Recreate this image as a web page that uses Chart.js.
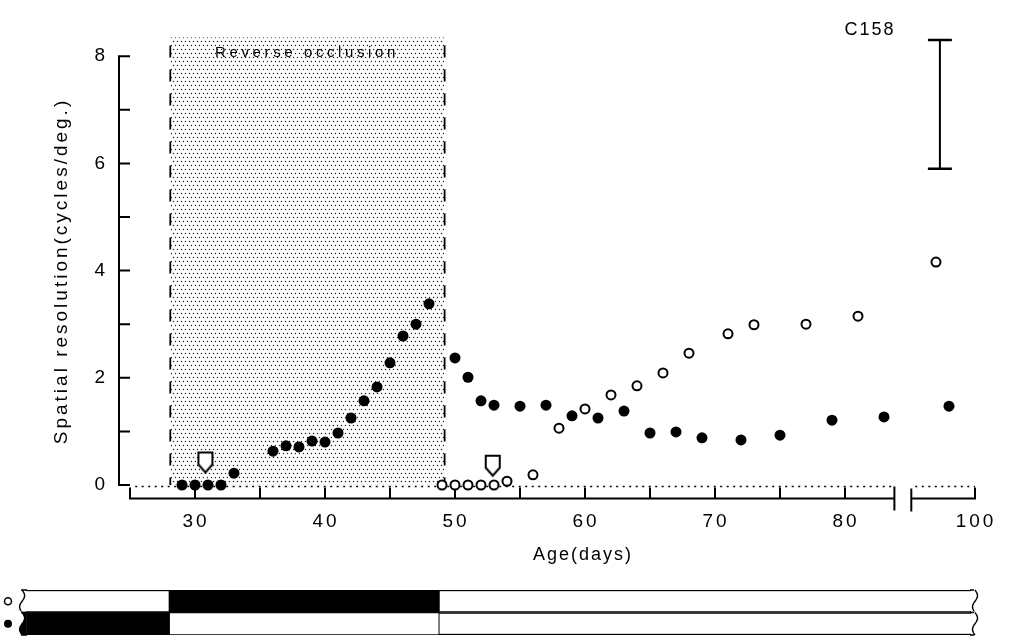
<!DOCTYPE html>
<html>
<head>
<meta charset="utf-8">
<script src="https://cdn.jsdelivr.net/npm/chart.js@4"></script>
<style>
  body { margin: 0; background: #fff; }
  #wrap { position: relative; width: 1010px; height: 637px; }
  #main { position: absolute; left: 0; top: 0; }
  #bar { position: absolute; left: 0; top: 584px; }
</style>
</head>
<body>
<div id="wrap">
  <canvas id="main" width="1010" height="637"></canvas>
  <canvas id="bar" width="1010" height="53"></canvas>
</div>
<script>
// Filled circles (eye shown as ● in the bottom strip)
const filledDays = [29, 30, 31, 32, 33, 36, 37, 38, 39, 40, 41, 42, 43, 44, 45, 46, 47, 48,
  50, 51, 52, 53, 55, 57, 59, 61, 63, 65, 67, 69, 72, 75, 79, 83, 98];
const filledValues = [0, 0, 0, 0, 0.22, 0.63, 0.73, 0.71, 0.82, 0.8, 0.97, 1.25, 1.57, 1.83, 2.28, 2.78, 3.0, 3.38,
  2.37, 2.01, 1.57, 1.49, 1.47, 1.49, 1.29, 1.25, 1.38, 0.97, 0.99, 0.88, 0.84, 0.93, 1.21, 1.27, 1.47];

// Open circles (eye shown as ○)
const openDays = [49, 50, 51, 52, 53, 54, 56, 58, 60, 62, 64, 66, 68, 71, 73, 77, 81, 97];
const openValues = [0, 0, 0, 0, 0, 0.07, 0.19, 1.06, 1.42, 1.68, 1.85, 2.09, 2.46, 2.82, 2.99, 3.0, 3.15, 4.16];

// the two open arrows
const arrowDays = [30.8, 52.9];
const arrowValues = [0.42, 0.36];

// scale bar top right
const errorBarDay = 97.3;
const errorBarValues = [8.3, 5.9];

// reverse occlusion period (shaded)
const occlusion = [28.1, 49.2];
const occlusionTop = 8.35;

const yTickValues = [0, 2, 4, 6, 8];
const xTickValues = [30, 40, 50, 60, 70, 80, 100];
const xMinorTicks = [25, 35, 45, 55, 65, 75];

// axis break: days 84..95 are left out
const breakStart = 83.8;
const breakEnd = 95.1;
const breakShift = 10;
const xAxisEnd = 100;

// occlusion strip below the axis
const barRows = ['open', 'filled'];
const barStart = 16.7;
const barEnd = 100;
const openClosed = [28, 48.8];
const filledClosed = [16.7, 28];

const FONT = '"Liberation Sans", Arial, sans-serif';

// day on the paper -> position on the (broken) linear axis
const toPlot = d => d >= breakEnd ? d - breakShift : d;

function points(days, values) {
  return days.map((d, i) => ({ x: toPlot(d), y: values[i] }));
}

function arrowImage() {
  const c = document.createElement('canvas');
  c.width = 20; c.height = 24;
  const g = c.getContext('2d');
  g.beginPath();
  g.moveTo(3, 2); g.lineTo(17, 2); g.lineTo(17, 14); g.lineTo(10, 22); g.lineTo(3, 14);
  g.closePath();
  g.fillStyle = '#fff'; g.fill();
  g.lineWidth = 2; g.strokeStyle = '#000'; g.stroke();
  return c;
}

// small dot screen used for the shaded period
function stipple() {
  const c = document.createElement('canvas');
  c.width = 4; c.height = 8;
  const g = c.getContext('2d');
  g.fillStyle = '#222';
  [[1.5, 1.5], [3.5, 5.5]].forEach(([a, b]) => {
    g.beginPath(); g.arc(a, b, 0.75, 0, Math.PI * 2); g.fill();
  });
  return c;
}

const figurePlugin = {
  id: 'figure',
  beforeDatasetsDraw(chart) {
    const { ctx, chartArea, scales: { x, y } } = chart;
    const px = d => x.getPixelForValue(toPlot(d));
    const py = v => y.getPixelForValue(v);
    ctx.save();

    // shaded occlusion period
    const x0 = px(occlusion[0]), x1 = px(occlusion[1]);
    ctx.fillStyle = ctx.createPattern(stipple(), 'repeat');
    ctx.fillRect(x0, py(occlusionTop), x1 - x0, py(0) - py(occlusionTop));
    ctx.strokeStyle = '#000';
    ctx.lineWidth = 1.8;
    ctx.setLineDash([12, 12]);
    [x0, x1].forEach(xx => {
      ctx.beginPath(); ctx.moveTo(xx, py(8.2)); ctx.lineTo(xx, py(0)); ctx.stroke();
    });

    // dotted zero level
    ctx.setLineDash([2, 4.5]);
    ctx.lineWidth = 1.4;
    const zy = py(0) + 1.5;
    ctx.beginPath();
    ctx.moveTo(px(25.4), zy); ctx.lineTo(px(breakStart), zy);
    ctx.moveTo(px(breakEnd) + 4, zy); ctx.lineTo(px(xAxisEnd), zy);
    ctx.stroke();
    ctx.setLineDash([]);

    // y axis with a tick at every unit
    const ax = chartArea.left;
    ctx.lineWidth = 2;
    ctx.beginPath();
    ctx.moveTo(ax, py(8)); ctx.lineTo(ax, py(0));
    for (let v = 0; v <= 8; v++) {
      ctx.moveTo(ax - 1, py(v)); ctx.lineTo(ax + 11, py(v));
    }
    ctx.stroke();

    // x axis, broken near the end
    const by = chartArea.bottom;
    ctx.beginPath();
    ctx.moveTo(px(25), by); ctx.lineTo(px(breakStart), by);
    ctx.moveTo(px(breakEnd), by); ctx.lineTo(px(xAxisEnd), by);
    xMinorTicks.concat(xTickValues).forEach(d => {
      ctx.moveTo(px(d), by + 1); ctx.lineTo(px(d), by - 11);
    });
    ctx.moveTo(px(breakStart), by - 12); ctx.lineTo(px(breakStart), by + 12);
    ctx.moveTo(px(breakEnd), by - 10); ctx.lineTo(px(breakEnd), by + 13);
    ctx.stroke();
    ctx.restore();
  },
  afterDraw(chart) {
    const { ctx, scales: { x, y } } = chart;
    const px = d => x.getPixelForValue(toPlot(d));
    const py = v => y.getPixelForValue(v);
    ctx.save();
    ctx.fillStyle = '#000';
    ctx.textBaseline = 'middle';

    ctx.font = '19px ' + FONT;
    ctx.textAlign = 'right';
    yTickValues.forEach(v => ctx.fillText(String(v), 105, py(v)));

    ctx.font = '19px ' + FONT;
    ctx.textAlign = 'center';
    ctx.letterSpacing = '3px';
    xTickValues.forEach(d => ctx.fillText(String(d), px(d) + 1, 522));

    ctx.font = '18px ' + FONT;
    ctx.letterSpacing = '2px';
    ctx.fillText('Age(days)', 583, 555);
    ctx.fillText('C158', 870, 30);

    ctx.font = '15px ' + FONT;
    ctx.letterSpacing = '3.6px';
    ctx.fillText('Reverse occlusion', 307, 53);

    ctx.save();
    ctx.translate(62, 271);
    ctx.rotate(-Math.PI / 2);
    ctx.font = '19px ' + FONT;
    ctx.letterSpacing = '3px';
    ctx.fillText('Spatial resolution(cycles/deg.)', 0, 0);
    ctx.restore();

    ctx.restore();
  }
};

new Chart(document.getElementById('main'), {
  type: 'scatter',
  data: {
    datasets: [
      {
        type: 'line',
        data: errorBarValues.map(v => ({ x: toPlot(errorBarDay), y: v })),
        showLine: true,
        borderColor: '#000',
        borderWidth: 2,
        pointStyle: 'line',
        pointRadius: 12,
        pointBorderWidth: 2.5,
        fill: false
      },
      {
        data: points(filledDays, filledValues),
        pointRadius: 5.5,
        backgroundColor: '#000',
        borderWidth: 0
      },
      {
        data: points(openDays, openValues),
        pointRadius: 4.5,
        backgroundColor: '#fff',
        borderColor: '#000',
        borderWidth: 2
      },
      {
        data: points(arrowDays, arrowValues),
        pointStyle: arrowImage(),
        pointRadius: 10
      }
    ]
  },
  options: {
    responsive: false,
    animation: false,
    events: [],
    layout: { padding: { left: 119, right: 28.5, top: 29.4, bottom: 138.6 } },
    plugins: { legend: { display: false }, tooltip: { enabled: false } },
    scales: {
      x: { type: 'linear', min: 24.154, max: 90.5, display: false },
      y: { min: -0.25, max: 8.5, display: false }
    }
  },
  plugins: [figurePlugin]
});

// wavy torn ends of the strip and the ○ / ● keys
const stripPlugin = {
  id: 'strip',
  afterDatasetsDraw(chart) {
    const { ctx, scales: { x } } = chart;
    const rows = chart.getDatasetMeta(2).data;
    const ends = [
      { at: x.getPixelForValue(toPlot(barStart)), colors: ['#fff', '#000'] },
      { at: x.getPixelForValue(toPlot(barEnd)), colors: ['#fff', '#fff'] }
    ];
    ctx.save();
    ends.forEach((end, e) => {
      const dir = e === 0 ? 1 : -1;
      rows.forEach((bar, r) => {
        const top = bar.y - bar.height / 2, bottom = bar.y + bar.height / 2;
        ctx.fillStyle = '#fff';
        ctx.fillRect(end.at - 4, top - 1, 8, bottom - top + 2);
        const wave = t => end.at + 2.5 * Math.sin(t * Math.PI * 2);
        ctx.beginPath();
        ctx.moveTo(end.at + 4 * dir, top);
        for (let i = 0; i <= 20; i++) {
          const t = i / 20;
          ctx.lineTo(wave(t), top + t * (bottom - top));
        }
        ctx.lineTo(end.at + 4 * dir, bottom);
        ctx.closePath();
        ctx.fillStyle = end.colors[r];
        ctx.fill();
        ctx.beginPath();
        for (let i = 0; i <= 20; i++) {
          const t = i / 20;
          const xx = wave(t), yy = top + t * (bottom - top);
          if (i === 0) ctx.moveTo(xx, yy); else ctx.lineTo(xx, yy);
        }
        ctx.strokeStyle = '#000';
        ctx.lineWidth = 1.4;
        ctx.stroke();
        ctx.beginPath();
        ctx.moveTo(end.at - 1, top); ctx.lineTo(end.at + 5 * dir, top);
        ctx.moveTo(end.at - 1, bottom); ctx.lineTo(end.at + 5 * dir, bottom);
        ctx.stroke();
      });
    });
    // keys
    ctx.lineWidth = 1.5;
    ctx.beginPath(); ctx.arc(8, rows[0].y, 3.5, 0, Math.PI * 2);
    ctx.fillStyle = '#fff'; ctx.fill(); ctx.stroke();
    ctx.beginPath(); ctx.arc(8, rows[1].y, 4, 0, Math.PI * 2);
    ctx.fillStyle = '#000'; ctx.fill();
    ctx.restore();
  }
};

const span = r => [toPlot(r[0]), toPlot(r[1])];
const barCommon = { grouped: false, barPercentage: 1, categoryPercentage: 1 };

new Chart(document.getElementById('bar'), {
  type: 'bar',
  data: {
    labels: barRows,
    datasets: [
      { ...barCommon, data: [span(openClosed), span(filledClosed)], backgroundColor: '#000', borderWidth: 0 },
      { ...barCommon, data: [null, span(openClosed)], backgroundColor: '#fff', borderColor: '#000', borderWidth: 1.2, borderSkipped: false },
      { ...barCommon, data: [span([barStart, barEnd]), span([barStart, barEnd])], backgroundColor: '#fff', borderColor: '#000', borderWidth: 1.5, borderSkipped: false }
    ]
  },
  options: {
    indexAxis: 'y',
    responsive: false,
    animation: false,
    events: [],
    layout: { padding: { left: 0, right: 28.5, top: 6, bottom: 2 } },
    plugins: { legend: { display: false }, tooltip: { enabled: false } },
    scales: {
      x: { type: 'linear', min: 15, max: 90.5, display: false },
      y: { display: false }
    }
  },
  plugins: [stripPlugin]
});
</script>
</body>
</html>
